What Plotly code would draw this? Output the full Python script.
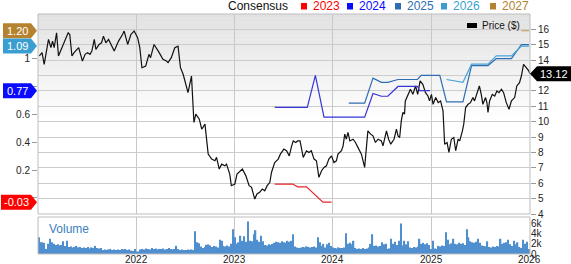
import plotly.graph_objects as go
import pandas as pd

# ---------------- data ----------------
price_dates = [
 "2021-01-06","2021-01-16","2021-01-24","2021-02-09","2021-02-18","2021-02-24","2021-03-02","2021-03-11",
 "2021-03-18","2021-04-02","2021-04-12","2021-04-23","2021-04-29","2021-05-07","2021-05-15","2021-06-01",
 "2021-06-15","2021-06-25","2021-07-04","2021-07-13","2021-07-20","2021-07-29","2021-08-04","2021-08-16",
 "2021-08-25","2021-09-01","2021-09-10","2021-09-20","2021-10-11","2021-10-27","2021-11-11","2021-11-17",
 "2021-11-30","2021-12-12","2021-12-24","2022-01-06","2022-01-14","2022-01-22","2022-02-05","2022-02-17",
 "2022-02-23","2022-03-08","2022-03-27","2022-04-10","2022-04-23","2022-04-29","2022-05-11","2022-05-24",
 "2022-06-05","2022-06-14","2022-06-24","2022-07-04","2022-07-12","2022-07-25","2022-08-03","2022-08-10",
 "2022-08-23","2022-09-01","2022-09-13","2022-09-25","2022-10-08","2022-10-20","2022-10-26","2022-11-05",
 "2022-11-14","2022-11-26","2022-12-02","2022-12-14","2022-12-20","2023-01-02","2023-01-10","2023-01-30",
 "2023-02-12","2023-02-24","2023-03-05","2023-03-17","2023-03-25","2023-04-04","2023-04-14","2023-04-23",
 "2023-05-02","2023-05-12","2023-05-18","2023-05-30","2023-06-12","2023-06-20","2023-07-03","2023-07-13",
 "2023-07-23","2023-08-01","2023-08-07","2023-08-16","2023-08-23","2023-09-01","2023-09-13","2023-09-25",
 "2023-10-04","2023-10-13","2023-10-23","2023-11-01","2023-11-10","2023-11-20","2023-11-29","2023-12-08",
 "2023-12-17","2023-12-27","2024-01-05","2024-01-14","2024-01-20","2024-02-02","2024-02-08","2024-02-14",
 "2024-02-20","2024-02-26","2024-03-04","2024-03-16","2024-03-25","2024-04-03","2024-04-16","2024-04-28",
 "2024-05-04","2024-05-10","2024-05-20","2024-05-29","2024-06-07","2024-06-17","2024-06-29","2024-07-05",
 "2024-07-18","2024-07-26","2024-08-03","2024-08-15","2024-08-24","2024-08-30","2024-09-05","2024-09-11",
 "2024-09-17","2024-09-23","2024-09-26","2024-10-05","2024-10-15","2024-10-24","2024-11-03","2024-11-11",
 "2024-11-20","2024-11-30","2024-12-10","2024-12-19","2024-12-25","2025-01-01","2025-01-07","2025-01-17",
 "2025-01-26","2025-02-04","2025-02-13","2025-02-19","2025-02-28","2025-03-07","2025-03-16","2025-03-25",
 "2025-04-01","2025-04-10","2025-04-16","2025-04-26","2025-05-01","2025-05-08","2025-05-17","2025-05-26",
 "2025-06-04","2025-06-10","2025-06-16","2025-06-22","2025-06-28","2025-07-05","2025-07-11","2025-07-21",
 "2025-07-26","2025-07-30","2025-08-05","2025-08-15","2025-08-24","2025-09-01","2025-09-09","2025-09-18",
 "2025-09-26","2025-10-06","2025-10-16","2025-10-25","2025-11-06","2025-11-14","2025-11-24","2025-12-01",
 "2025-12-09","2025-12-19","2025-12-29","2026-01-01"]
price = [
 14.27,14.49,13.73,15.35,14.81,15.24,14.81,15.78,14.27,14.91,15.35,15.78,15.67,14.27,14.49,14.81,
 13.94,14.38,14.49,14.38,14.59,15.35,14.70,15.02,15.13,15.56,15.13,15.35,14.59,15.24,15.67,15.89,
 15.02,15.67,15.89,15.46,14.81,13.51,13.62,14.38,14.16,15.02,14.49,14.05,13.94,13.84,14.16,14.81,
 14.91,13.51,13.08,12.43,11.89,12.97,9.95,10.49,10.16,9.51,9.84,7.89,7.57,7.46,7.68,6.92,
 7.24,7.13,7.24,6.59,5.84,5.95,6.59,6.92,6.48,5.84,5.73,4.97,5.30,5.41,5.62,5.51,
 5.84,6.06,6.70,7.35,7.57,7.89,8.22,8.11,7.78,8.43,8.75,8.65,8.75,8.75,7.68,8.11,
 8.00,8.11,7.57,7.46,6.38,6.81,7.03,7.13,7.57,7.78,7.35,7.46,7.89,8.11,8.43,9.19,
 8.86,9.30,8.75,8.86,8.65,8.33,7.89,7.03,8.11,9.40,9.19,9.08,8.65,8.86,8.75,8.43,
 9.40,8.86,8.54,8.86,9.51,9.08,8.97,10.05,10.60,10.49,11.35,11.67,12.11,11.78,12.32,11.78,
 12.65,12.43,11.89,11.67,11.35,11.78,11.13,11.57,11.24,11.35,10.70,8.54,8.65,8.00,8.86,8.97,
 8.11,8.86,8.75,9.40,9.84,10.92,11.13,11.24,11.57,11.35,11.67,12.11,12.32,11.78,11.13,11.57,
 11.24,10.60,11.35,11.78,11.67,12.00,11.89,12.11,11.89,11.24,10.81,11.35,11.57,12.32,12.54,12.97,
 13.73,13.51,13.29,13.12]

eps2023_dates = ["2023-05-30","2023-08-05","2023-08-23","2023-09-25","2023-11-25","2023-12-27"]
eps2023 = [0.10,0.10,0.08,0.08,-0.03,-0.03]

eps2024_dates = ["2023-05-30","2023-09-28","2023-10-28","2023-11-29","2024-04-28","2024-05-29",
                 "2024-06-29","2024-07-23","2024-08-30","2024-11-10","2024-11-18","2024-12-27"]
eps2024 = [0.65,0.65,0.88,0.58,0.58,0.75,0.73,0.73,0.80,0.80,0.77,0.77]

eps2025_dates = ["2024-02-29","2024-04-28","2024-05-29","2024-06-29","2024-07-23","2024-08-30",
                 "2024-11-10","2024-11-24","2025-02-01","2025-02-26","2025-04-28","2025-05-30",
                 "2025-07-30","2025-08-30","2025-10-25","2025-12-01","2025-12-29"]
eps2025 = [0.68,0.68,0.86,0.83,0.83,0.85,0.85,0.88,0.88,0.69,0.69,0.95,0.95,1.00,1.00,1.10,1.10]

eps2026_dates = ["2025-02-26","2025-04-28","2025-05-30","2025-07-30","2025-08-30","2025-10-25",
                 "2025-12-01","2025-12-29"]
eps2026 = [0.85,0.83,0.96,0.96,1.02,1.02,1.09,1.09]

eps2027_dates = ["2025-12-01","2025-12-29"]
eps2027 = [1.20,1.20]

volume_start = "2021-01-04"
volume_k = [
 3.3,2.3,
 2.3,2.2,1.0,2.0,3.0,2.3,2.0,1.8,1.9,
 1.7,1.8,2.5,1.6,2.6,
 1.4,1.5,1.3,1.4,1.6,1.3,1.4,1.2,
 1.3,1.2,1.4,1.1,1.3,1.2,1.6,1.2,1.1,
 1.2,0.8,0.9,0.8,0.9,1.0,0.8,0.9,
 0.8,0.9,0.8,1.0,0.9,1.0,0.8,0.9,0.7,0.6,1.0,0.5,
 0.5,0.9,1.0,0.9,1.1,1.0,0.9,1.2,1.0,1.1,0.9,1.0,
 1.0,1.1,0.9,1.0,1.2,1.0,0.9,1.0,1.6,1.0,0.8,0.9,
 0.8,0.8,0.9,0.8,0.9,0.8,
 4.5,
 2.3,2.1,1.5,1.2,1.4,
 1.8,1.9,1.7,1.4,1.6,1.5,1.3,
 2.8,2.6,1.6,1.5,1.7,1.5,
 2.0,4.9,3.3,2.0,2.3,3.6,2.6,3.5,2.4,6.4,
 2.6,2.5,3.9,4.7,2.8,2.4,3.6,2.5,1.8,1.7,
 1.9,1.8,2.0,2.2,2.4,2.3,2.2,2.5,2.3,2.2,2.6,2.4,
 2.6,3.9,1.5,1.3,1.2,1.3,1.4,1.3,1.5,1.4,1.3,1.4,
 1.5,1.3,3.3,2.3,1.6,2.0,1.3,1.9,2.2,1.6,1.3,1.2,
 1.1,1.3,1.2,1.2,1.3,4.1,2.0,2.2,1.9,2.6,1.2,1.0,
 1.1,1.0,1.2,1.0,1.1,1.3,2.0,3.9,1.6,1.7,1.5,1.6,
 2.3,1.9,2.0,1.0,1.1,3.0,2.0,2.4,1.8,2.6,6.0,1.7,
 2.6,1.9,2.5,1.3,1.2,1.4,1.3,1.5,3.0,2.0,2.2,1.9,
 2.1,1.8,1.0,2.6,1.1,1.0,1.6,1.5,1.7,1.6,4.3,2.8,
 1.9,2.1,3.0,2.0,1.9,2.2,2.0,2.1,1.8,4.9,3.3,2.5,
 2.3,2.2,2.4,3.0,2.2,1.7,1.6,1.5,2.5,1.4,1.3,1.5,
 1.4,1.6,1.5,3.0,2.0,2.2,2.3,2.8,1.9,1.6,2.6,1.9,
 2.3,1.4,1.2,2.8,2.0,2.4,1.0]
volume_dates = pd.date_range(volume_start, periods=len(volume_k), freq="7D")

year_ticks = ["2022-01-01", "2023-01-01", "2024-01-01", "2025-01-01", "2026-01-01"]
year_labels = ["2022", "2023", "2024", "2025", "2026"]
# price ticks; the 13 label is hidden behind the last-price tag in the reference
price_ticks = [4, 5, 6, 7, 8, 9, 10, 11, 12, 13, 14, 15, 16]
price_labels = ["4", "5", "6", "7", "8", "9", "10", "11", "12", "", "14", "15", "16"]
# EPS ticks; 0.8 and 0 labels are hidden behind the consensus tags
eps_ticks = [0, 0.2, 0.4, 0.6, 0.8, 1.0]
eps_labels = ["", "0.2", "0.4", "0.6", "", "1"]
vol_ticks = [0, 2, 4, 6]
vol_labels = ["0", "2k", "4k", "6k"]
last_price = 13.12

series = [
    ("2023", eps2023_dates, eps2023, "#e8262a", "#ff0000"),
    ("2024", eps2024_dates, eps2024, "#3535d8", "#0a0aff"),
    ("2025", eps2025_dates, eps2025, "#2f6db3", "#2f6db3"),
    ("2026", eps2026_dates, eps2026, "#4aa3d6", "#3a9fd0"),
    ("2027", eps2027_dates, eps2027, "#c9a36b", "#b5832f"),
]
eps_tags = [("1.20", 1.20, "#b5832f"), ("1.09", 1.09, "#3a9fd0"),
            ("0.77", 0.77, "#0a0aff"), ("-0.03", -0.03, "#ff0000")]

# ---------------- layout helpers ----------------
W, H = 571, 264
L, R, T, B = 38, 41, 14, 10
PW, PH = W - L - R, H - T - B
def px(x): return (x - L) / PW
def py(y): return (H - B - y) / PH

FONT = "Liberation Sans, Arial, sans-serif"

fig = go.Figure()
fig.add_trace(go.Bar(x=volume_dates, y=volume_k, xaxis="x", yaxis="y3",
                     marker=dict(color="#4f8fcf", line=dict(width=0)), hoverinfo="skip"))
fig.add_trace(go.Scatter(x=price_dates, y=price, xaxis="x", yaxis="y", mode="lines",
                         line=dict(color="#111111", width=1.2), hoverinfo="skip"))
for name, d, v, col, _ in series:
    fig.add_trace(go.Scatter(x=d, y=v, xaxis="x", yaxis="y2", mode="lines",
                             line=dict(color=col, width=1.2), hoverinfo="skip"))

shapes = []
# background gradient in price panel
N = 26
for k in range(N):
    g = int(round(226 + (255 - 226) * k / (N - 1)))
    top = 1 - k * 0.55 / N
    shapes.append(dict(type="rect", xref="x domain", yref="y domain", x0=0, x1=1,
                       y0=top - 0.55 / N - 0.002, y1=top, layer="below",
                       fillcolor=f"rgb({g},{g},{g})", line=dict(width=0)))
# panel borders
shapes.append(dict(type="rect", xref="x domain", yref="y domain", x0=0, x1=1, y0=0, y1=1,
                   line=dict(color="#bdbdbd", width=1), layer="above"))
shapes.append(dict(type="rect", xref="x domain", yref="y3 domain", x0=0, x1=1, y0=0, y1=1,
                   line=dict(color="#bdbdbd", width=1), layer="above"))

annotations = []
# year labels along the bottom
for tv, tl in zip(year_ticks, year_labels):
    annotations.append(dict(xref="x", x=tv, yref="paper", y=py(259.5), text=tl,
                            showarrow=False, xanchor="center", yanchor="middle", borderpad=0,
                            font=dict(family=FONT, size=10, color="#222")))
# EPS tags (left)
for txt, val, col in eps_tags:
    w = 30 if txt.startswith("-") else 28
    shapes.append(dict(type="path", xref="paper", xsizemode="pixel", xanchor=0,
                       yref="y2", ysizemode="pixel", yanchor=val,
                       path=f"M -1,0 L -7,7.5 L -{7+w},7.5 L -{7+w},-7.5 L -7,-7.5 Z",
                       fillcolor=col, line=dict(width=0), layer="above"))
    annotations.append(dict(xref="paper", x=0, xshift=-(7 + w / 2), yref="y2", y=val,
                            text=txt, showarrow=False, xanchor="center", yanchor="middle",
                            font=dict(family=FONT, size=11, color="white")))
# last price tag (right)
shapes.append(dict(type="path", xref="paper", xsizemode="pixel", xanchor=1,
                   yref="y", ysizemode="pixel", yanchor=last_price,
                   path="M 0,0 L 7,7.5 L 41,7.5 L 41,-7.5 L 7,-7.5 Z",
                   fillcolor="#000000", line=dict(width=0), layer="above"))
annotations.append(dict(xref="paper", x=1, xshift=24, yref="y", y=last_price,
                        text=f"{last_price:.2f}", showarrow=False, xanchor="center",
                        yanchor="middle", font=dict(family=FONT, size=11, color="white")))

# top legend
annotations.append(dict(xref="paper", yref="paper", x=px(226), y=py(6), text="Consensus",
                        showarrow=False, xanchor="left", yanchor="middle",
                        font=dict(family=FONT, size=12, color="#111")))
leg_x = {"2023": 301, "2024": 347, "2025": 395, "2026": 441, "2027": 490}
for name, _, _, _, tcol in series:
    x0 = leg_x[name]
    shapes.append(dict(type="rect", xref="paper", yref="paper", x0=px(x0), x1=px(x0 + 6),
                       y0=py(9.5), y1=py(3), fillcolor=tcol, line=dict(width=0)))
    annotations.append(dict(xref="paper", yref="paper", x=px(x0 + 10), y=py(6), text=name,
                            showarrow=False, xanchor="left", yanchor="middle",
                            font=dict(family=FONT, size=12, color=tcol)))
# price legend
shapes.append(dict(type="rect", xref="paper", yref="paper", x0=px(467), x1=px(477),
                   y0=py(28), y1=py(23), fillcolor="#000", line=dict(width=0)))
annotations.append(dict(xref="paper", yref="paper", x=px(480), y=py(25.5), text="Price ($)",
                        showarrow=False, xanchor="left", yanchor="middle",
                        font=dict(family=FONT, size=10, color="#111")))
# volume label
annotations.append(dict(xref="paper", yref="paper", x=px(47), y=py(229), text="Volume",
                        showarrow=False, xanchor="left", yanchor="middle",
                        font=dict(family=FONT, size=12, color="#3d7fbf")))

vol_top = (H - B - 217) / PH
price_bottom = (H - B - 214) / PH

fig.update_layout(
    width=W, height=H, margin=dict(l=L, r=R, t=T, b=B, pad=0, autoexpand=False),
    paper_bgcolor="white", plot_bgcolor="rgba(0,0,0,0)",
    showlegend=False, bargap=0.3, hovermode=False,
    font=dict(family=FONT, size=10, color="#222"),
    xaxis=dict(domain=[0, 1], anchor="y3", type="date", automargin=False,
               range=["2021-01-01", "2026-01-02"],
               tickvals=year_ticks, showticklabels=False, ticks="",
               showgrid=True, gridcolor="#c8c8c8", gridwidth=1, zeroline=False,
               showline=False),
    yaxis=dict(domain=[price_bottom, 1], anchor="x", side="right", range=[4, 17],
               automargin=False,
               tickvals=price_ticks, ticktext=price_labels, ticks="outside", ticklen=5,
               tickcolor="#999", showgrid=True, gridcolor="#cccccc", zeroline=False,
               showline=False, tickfont=dict(size=10, color="#222")),
    yaxis2=dict(overlaying="y", anchor="x", side="left", range=[-0.115, 1.32],
                automargin=False,
                tickvals=eps_ticks, ticktext=eps_labels, ticks="outside", ticklen=5,
                tickcolor="#999", showgrid=False, zeroline=False, showline=False,
                tickfont=dict(size=10, color="#222")),
    yaxis3=dict(domain=[0, vol_top], anchor="x", side="right", range=[0, 7.3],
                automargin=False,
                tickvals=vol_ticks, ticktext=vol_labels, ticks="",
                showgrid=False, zeroline=False, showline=False,
                tickfont=dict(size=10, color="#222")),
    shapes=shapes, annotations=annotations,
)

fig.write_html("out.html")
